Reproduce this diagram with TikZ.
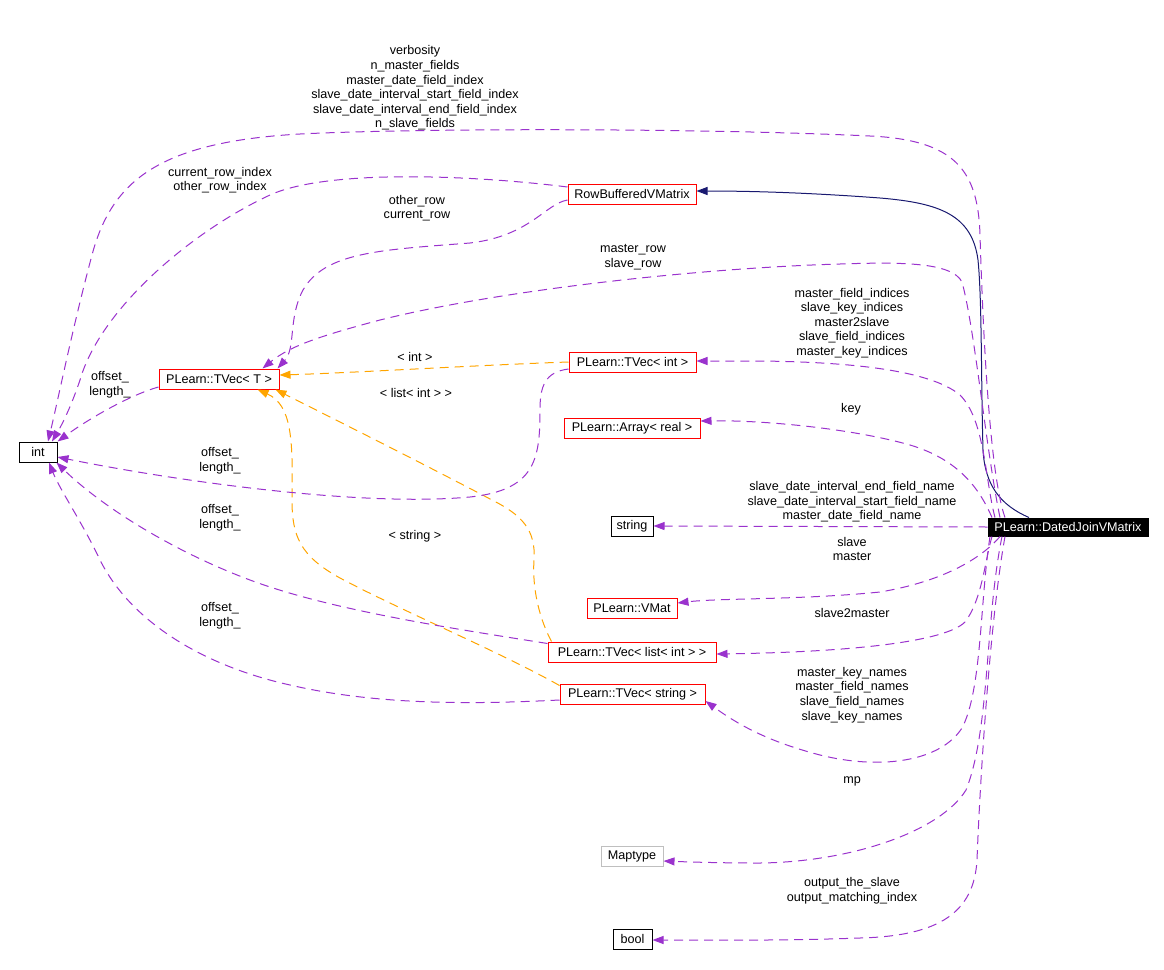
\documentclass[tikz,border=0pt]{standalone}
\usepackage{fontspec}
\setmainfont{Liberation Sans}
\usetikzlibrary{arrows.meta}
\definecolor{usecol}{HTML}{9A32CD}
\definecolor{tplcol}{HTML}{FFA500}
\definecolor{inhcol}{HTML}{191970}
\definecolor{redbox}{HTML}{FF0000}
\definecolor{greybox}{HTML}{BFBFBF}
\begin{document}
\begin{tikzpicture}[x=1pt,y=-1pt,
  txt/.style={font=\fontsize{12.6}{14.6}\selectfont},
  cls/.style={txt,draw=redbox,line width=1pt,inner sep=0pt,minimum height=20pt},
  blackbox/.style={cls,draw=black},
  greyboxst/.style={cls,draw=greybox},
  mainbox/.style={cls,draw=black,fill=black,text=white,minimum height=18pt},
  lbl/.style={txt,align=center,inner sep=0pt},
  uses/.style={draw=usecol,line width=1pt,dash pattern=on 9pt off 6pt,
    -{Triangle[length=11pt,width=8pt]}},
  tpl/.style={draw=tplcol,line width=1pt,dash pattern=on 9pt off 6pt,
    -{Triangle[length=11pt,width=8pt]}},
  inh/.style={draw=inhcol,line width=1pt,-{Triangle[length=11pt,width=8pt]}}]
\useasboundingbox (0,0) rectangle (1164,969);

% nodes
\node[blackbox,minimum width=38pt] (int) at (38,452) {int};
\node[cls,minimum width=120pt] (tvecT) at (219,379) {PLearn::TVec< T >};
\node[cls,minimum width=128pt] (rbvm) at (632,194) {RowBufferedVMatrix};
\node[cls,minimum width=127pt] (tvecint) at (632.5,362) {PLearn::TVec< int >};
\node[cls,minimum width=136pt] (arrayreal) at (632,428) {PLearn::Array< real >};
\node[blackbox,minimum width=42pt] (string) at (632,526) {string};
\node[cls,minimum width=90pt] (vmat) at (632,608) {PLearn::VMat};
\node[cls,minimum width=168pt] (tveclist) at (632,652) {PLearn::TVec< list< int > >};
\node[cls,minimum width=145pt] (tvecstring) at (632.5,694) {PLearn::TVec< string >};
\node[greyboxst,minimum width=62pt] (maptype) at (632,856) {Maptype};
\node[blackbox,minimum width=39pt] (bool) at (632.5,939) {bool};
\node[mainbox,minimum width=160pt] (dj) at (1068,527) {PLearn::DatedJoinVMatrix};

% inheritance
\draw[inh] ([xshift=-39pt]dj.north) .. controls (1000,505) and (985,485) .. (983,450)
  .. controls (981,380) and (982,300) .. (978,260)
  .. controls (972,215) and (940,203) .. (880,198)
  .. controls (800,192) and (740,191) .. ([yshift=3pt]rbvm.east);

% DatedJoin -> int
\draw[uses] ([xshift=-63pt]dj.north) .. controls (988,470) and (982,300) .. (980,235)
  .. controls (978,170) and (955,140) .. (870,136)
  .. controls (700,128) and (420,128) .. (300,134)
  .. controls (160,142) and (112,180) .. (92,255)
  .. controls (72,330) and (58,400) .. ([xshift=10pt]int.north);
% RowBuffered -> int
\draw[uses] ([yshift=7pt]rbvm.west) .. controls (480,176) and (330,168) .. (270,195)
  .. controls (190,232) and (100,310) .. (80,380)
  .. controls (70,410) and (60,428) .. ([xshift=14pt]int.north);
% TVec<T> -> int
\draw[uses] ([yshift=-8pt]tvecT.west) .. controls (130,395) and (90,418) .. (int.north east);
% RowBuffered -> TVec<T>
\draw[uses] ([yshift=-6pt]rbvm.west) .. controls (545,204) and (530,236) .. (470,243)
  .. controls (380,250) and (325,252) .. (303,290)
  .. controls (288,318) and (296,348) .. ([xshift=-2pt]tvecT.north east);
% DatedJoin -> TVec<T>
\draw[uses] ([xshift=-68pt]dj.north) .. controls (986,450) and (975,330) .. (962,282)
  .. controls (952,262) and (900,262) .. (840,264)
  .. controls (700,268) and (500,290) .. (380,320)
  .. controls (320,336) and (290,346) .. ([xshift=-17pt]tvecT.north east);
% template instances
\draw[tpl] (tvecint.west) .. controls (480,365) and (350,373) .. ([yshift=4pt]tvecT.east);
\draw[tpl] ([xshift=4pt]tveclist.north west) .. controls (540,620) and (532,590) .. (534,560)
  .. controls (536,530) and (522,515) .. (492,500)
  .. controls (420,462) and (320,412) .. ([xshift=-4pt]tvecT.south east);
\draw[tpl] ([yshift=-2pt]tvecstring.north west) .. controls (500,652) and (400,610) .. (340,578)
  .. controls (300,556) and (292,536) .. (292,500)
  .. controls (293,440) and (292,405) .. ([xshift=-22pt]tvecT.south east);
% TVec<int> -> int
\draw[uses] ([yshift=-7pt]tvecint.west) .. controls (545,372) and (540,386) .. (540,410)
  .. controls (540,460) and (535,490) .. (470,497)
  .. controls (350,508) and (150,476) .. ([yshift=-5pt]int.east);
% TVec<list<int>> -> int
\draw[uses] ([yshift=-2pt]tveclist.north west) .. controls (450,628) and (330,610) .. (250,580)
  .. controls (170,550) and (100,505) .. ([xshift=-1pt]int.south east);
% TVec<string> -> int
\draw[uses] ([yshift=-6pt]tvecstring.west) .. controls (480,704) and (380,706) .. (290,685)
  .. controls (200,665) and (130,620) .. (100,560)
  .. controls (82,522) and (60,490) .. ([xshift=11pt]int.south);
% DatedJoin -> TVec<int>
\draw[uses] ([xshift=-73pt]dj.north) .. controls (985,480) and (985,420) .. (960,395)
  .. controls (930,370) and (850,362) .. (760,361)
  .. controls (730,361) and (710,361) .. ([yshift=1pt]tvecint.east);
% DatedJoin -> Array<real>
\draw[uses] ([xshift=-76pt]dj.north) .. controls (980,490) and (960,460) .. (910,445)
  .. controls (850,428) and (760,420) .. ([yshift=7pt]arrayreal.east);
% DatedJoin -> string
\draw[uses] (dj.west) -- (string.east);
% DatedJoin -> VMat
\draw[uses] ([xshift=-68pt]dj.south) .. controls (980,560) and (940,582) .. (880,592)
  .. controls (800,600) and (720,598) .. ([yshift=5pt]vmat.east);
% DatedJoin -> TVec<list<int>>
\draw[uses] ([xshift=-76pt]dj.south) .. controls (985,560) and (982,600) .. (965,622)
  .. controls (945,642) and (850,652) .. ([yshift=-2pt]tveclist.east);
% DatedJoin -> TVec<string>
\draw[uses] ([xshift=-78pt]dj.south) .. controls (980,600) and (982,690) .. (962,728)
  .. controls (940,762) and (880,770) .. (820,755)
  .. controls (770,742) and (740,726) .. ([yshift=-7pt]tvecstring.east);
% DatedJoin -> Maptype
\draw[uses] ([xshift=-66pt]dj.south) .. controls (985,620) and (990,730) .. (966,790)
  .. controls (940,832) and (850,862) .. (760,863)
  .. controls (720,863) and (690,862) .. ([yshift=-5pt]maptype.east);
% DatedJoin -> bool
\draw[uses] ([xshift=-63pt]dj.south) .. controls (990,620) and (980,780) .. (977,860)
  .. controls (974,912) and (940,936) .. (860,938)
  .. controls (780,941) and (700,940) .. ([yshift=-1pt]bool.east);

% labels
\node[lbl] (l1) at (415,88) {verbosity\\n\_master\_fields\\master\_date\_field\_index\\slave\_date\_interval\_start\_field\_index\\slave\_date\_interval\_end\_field\_index\\n\_slave\_fields};
\node[lbl] (l2) at (220,180) {current\_row\_index\\other\_row\_index};
\node[lbl] (l3) at (417,208) {other\_row\\current\_row};
\node[lbl] (l4) at (633,257) {master\_row\\slave\_row};
\node[lbl] (l5) at (415,357) {< int >};
\node[lbl] (l6) at (416,393) {< list< int > >};
\node[lbl] (l7) at (852,323) {master\_field\_indices\\slave\_key\_indices\\master2slave\\slave\_field\_indices\\master\_key\_indices};
\node[lbl] (l8) at (851,409) {key};
\node[lbl] (l9) at (110,385) {offset\_\\length\_};
\node[lbl] (l10) at (220,461) {offset\_\\length\_};
\node[lbl] (l11) at (220,518) {offset\_\\length\_};
\node[lbl] (l12) at (415,536) {< string >};
\node[lbl] (l13) at (220,616) {offset\_\\length\_};
\node[lbl] (l14) at (852,502) {slave\_date\_interval\_end\_field\_name\\slave\_date\_interval\_start\_field\_name\\master\_date\_field\_name};
\node[lbl] (l15) at (852,549) {slave\\master};
\node[lbl] (l16) at (852,613) {slave2master};
\node[lbl] (l17) at (852,695) {master\_key\_names\\master\_field\_names\\slave\_field\_names\\slave\_key\_names};
\node[lbl] (l18) at (852,781) {mp};
\node[lbl] (l19) at (852,891) {output\_the\_slave\\output\_matching\_index};
\end{tikzpicture}
\end{document}
